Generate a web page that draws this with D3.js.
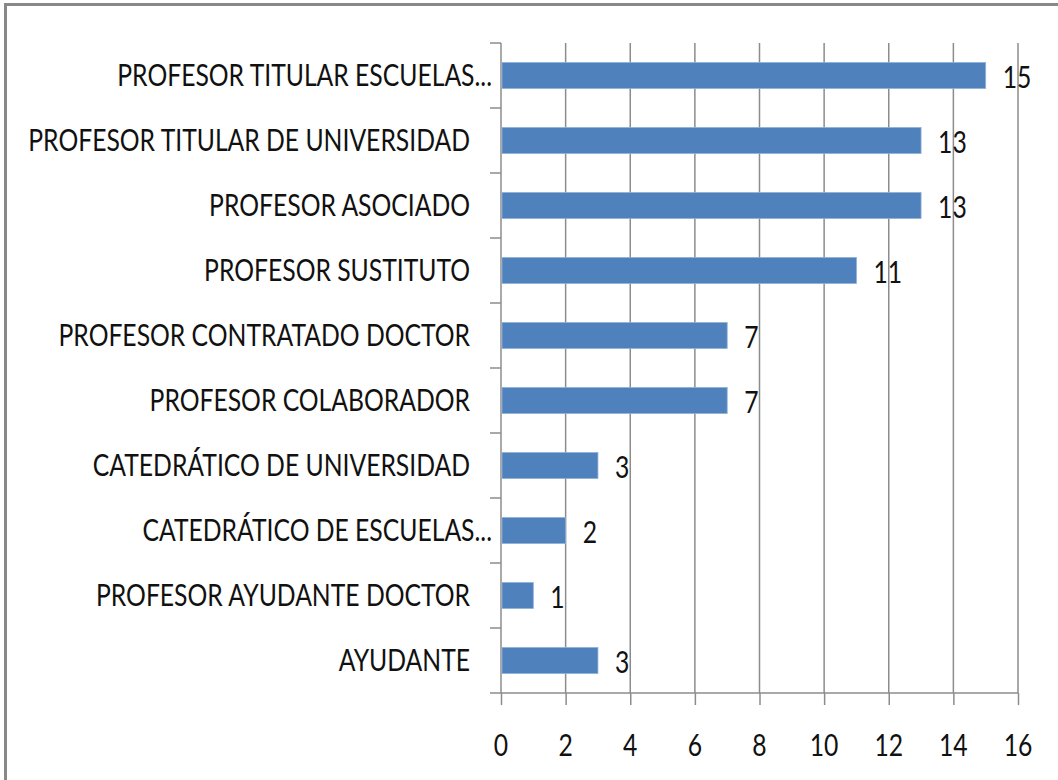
<!doctype html>
<html lang="es">
<head>
  <meta charset="utf-8">
  <title>Profesorado por categoría</title>
  <script src="https://cdnjs.cloudflare.com/ajax/libs/d3/7.8.5/d3.min.js"></script>
  <style>
    html, body { margin: 0; padding: 0; background: #fff; }
    svg { display: block; }
    text { font-family: Lato, "Open Sans", sans-serif; fill: #111; }
  </style>
</head>
<body>
  <svg id="chart"></svg>
<script>
  //
  // Data
  //

  var categories = [
    'PROFESOR TITULAR ESCUELAS...',
    'PROFESOR TITULAR DE UNIVERSIDAD',
    'PROFESOR ASOCIADO',
    'PROFESOR SUSTITUTO',
    'PROFESOR CONTRATADO DOCTOR',
    'PROFESOR COLABORADOR',
    'CATEDRÁTICO DE UNIVERSIDAD',
    'CATEDRÁTICO DE ESCUELAS...',
    'PROFESOR AYUDANTE DOCTOR',
    'AYUDANTE'
  ]
  var values = [15, 13, 13, 11, 7, 7, 3, 2, 1, 3]
  var xTicks = [0, 2, 4, 6, 8, 10, 12, 14, 16]

  //
  // Layout
  //

  var W = 1058, H = 780
  var plotLeft = 501, plotRight = 1018, plotTop = 43, plotBottom = 693
  var fontSize = 30
  var colorBar = '#4f81bd'
  var colorGrid = '#8c8c8c'

  var svg = d3.select('#chart').attr('width', W).attr('height', H)

  // horizontal squeeze so the text looks like the narrow original font
  var probe = svg.append('text').style('font-size', fontSize + 'px').text('PROFESOR TITULAR DE UNIVERSIDAD')
  var squeeze = 442 / probe.node().getComputedTextLength()
  probe.remove()

  function label(g, tx, ty, anchor, str) {
    g.append('text')
      .attr('transform', 'translate(' + tx + ',' + ty + ') scale(' + squeeze + ',1)')
      .attr('text-anchor', anchor)
      .attr('dy', '0.36em')
      .style('font-size', fontSize + 'px')
      .text(str)
  }

  // outer frame
  svg.append('rect')
    .attr('x', 5.5).attr('y', 4.5)
    .attr('width', W + 10).attr('height', H + 10)
    .attr('fill', 'none').attr('stroke', '#888').attr('stroke-width', 3)

  var x = d3.scaleLinear().domain([0, 16]).range([plotLeft, plotRight])
  var y = d3.scaleBand().domain(categories).range([plotTop, plotBottom]).paddingInner(0.6).paddingOuter(0.3)

  // gridlines
  svg.append('g').selectAll('line')
    .data(xTicks.slice(1))
    .join('line')
    .attr('x1', function (d) { return x(d) }).attr('x2', function (d) { return x(d) })
    .attr('y1', plotTop).attr('y2', plotBottom)
    .attr('stroke', colorGrid).attr('stroke-width', 1.5)

  // x axis
  var xAxis = svg.append('g')
    .attr('transform', 'translate(0,' + plotBottom + ')')
    .call(d3.axisBottom(x).tickValues(xTicks).tickSize(12).tickSizeOuter(0).tickFormat(''))
  xAxis.select('.domain').remove()
  xAxis.selectAll('line').attr('stroke', colorGrid).attr('stroke-width', 1.5)
  var xLabels = svg.append('g')
  xTicks.forEach(function (t) { label(xLabels, x(t), 745, 'middle', t) })

  svg.append('line')
    .attr('x1', plotLeft - 11).attr('x2', plotRight)
    .attr('y1', plotBottom).attr('y2', plotBottom)
    .attr('stroke', colorGrid).attr('stroke-width', 1.5)

  // y axis with category separators
  var step = (plotBottom - plotTop) / categories.length
  svg.append('line')
    .attr('x1', plotLeft).attr('x2', plotLeft)
    .attr('y1', plotTop).attr('y2', plotBottom)
    .attr('stroke', colorGrid).attr('stroke-width', 1.5)
  svg.append('g').selectAll('line')
    .data(d3.range(categories.length))
    .join('line')
    .attr('x1', plotLeft - 11).attr('x2', plotLeft)
    .attr('y1', function (i) { return plotTop + i * step }).attr('y2', function (i) { return plotTop + i * step })
    .attr('stroke', colorGrid).attr('stroke-width', 1.5)

  // bars
  svg.append('g').selectAll('rect')
    .data(values)
    .join('rect')
    .attr('x', x(0) + 1)
    .attr('y', function (d, i) { return y(categories[i]) })
    .attr('width', function (d) { return x(d) - x(0) - 1 })
    .attr('height', y.bandwidth())
    .attr('fill', colorBar)
    .attr('stroke', '#8fb0d8').attr('stroke-width', 0.8)

  // category labels
  var catLabels = svg.append('g')
  categories.forEach(function (c) {
    var tx = /\.\.\.$/.test(c) ? plotLeft - 9 : plotLeft - 31
    label(catLabels, tx, y(c) + y.bandwidth() / 2, 'end', c)
  })

  // value labels
  var valLabels = svg.append('g')
  values.forEach(function (v, i) {
    label(valLabels, x(v) + 17, y(categories[i]) + y.bandwidth() / 2 + 2, 'start', v)
  })
</script>
</body>
</html>
